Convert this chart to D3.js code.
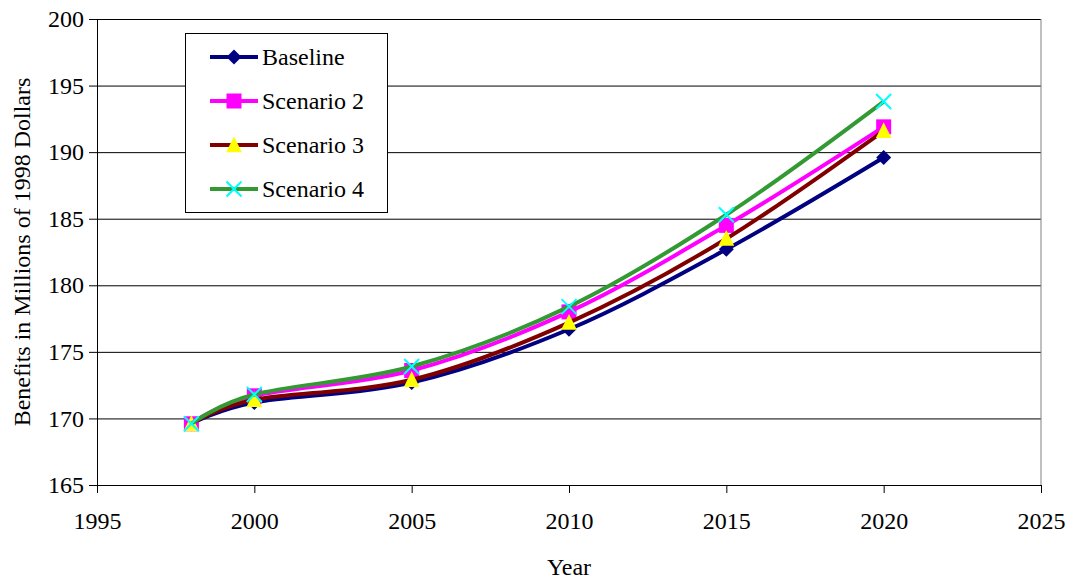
<!DOCTYPE html>
<html>
<head>
<meta charset="utf-8">
<script src="https://cdn.jsdelivr.net/npm/d3@7"></script>
<style>
  body { margin: 0; background: #fff; }
  svg text { font-family: "Liberation Serif", "Times New Roman", serif; fill: #000; }
</style>
</head>
<body>
<div id="chart"></div>
<script>
// data
var years = [1998, 2000, 2005, 2010, 2015, 2020];
var baseline  = [169.6, 171.2, 172.7, 176.7, 182.7, 189.6];
var scenario2 = [169.6, 171.7, 173.6, 178.0, 184.5, 191.9];
var scenario3 = [169.6, 171.4, 172.9, 177.2, 183.5, 191.6];
var scenario4 = [169.6, 171.8, 173.9, 178.4, 185.3, 193.8];
var seriesNames = ["Baseline", "Scenario 2", "Scenario 3", "Scenario 4"];
var xTicks = [1995, 2000, 2005, 2010, 2015, 2020, 2025];
var yTicks = [165, 170, 175, 180, 185, 190, 195, 200];

var width = 1069, height = 580;
var margin = {top: 19, right: 28, bottom: 95, left: 97},
    plot_w = width - margin.left - margin.right,
    plot_h = height - margin.top - margin.bottom;
var fontFam = '"Liberation Serif", "Times New Roman", serif';

var series = [
  {name: seriesNames[0], values: baseline,  line: "#000080", marker: "diamond",  fill: "#000080"},
  {name: seriesNames[1], values: scenario2, line: "#ff00ff", marker: "square",   fill: "#ff00ff"},
  {name: seriesNames[2], values: scenario3, line: "#800000", marker: "triangle", fill: "#ffff00"},
  {name: seriesNames[3], values: scenario4, line: "#339933", marker: "cross",    fill: "#00ffff"}
];

var x = d3.scaleLinear().domain([1995, 2025]).range([0, plot_w]);
var y = d3.scaleLinear().domain([165, 200]).range([plot_h, 0]);

var svg = d3.select("#chart").append("svg")
    .attr("width", width)
    .attr("height", height);

var g = svg.append("g")
    .attr("transform", "translate(" + margin.left + "," + margin.top + ")");

// horizontal gridlines
g.append("g")
    .attr("class", "grid")
    .call(d3.axisLeft(y).tickValues(yTicks).tickSize(-plot_w).tickFormat(""))
    .call(function(s) {
        s.select(".domain").remove();
        s.selectAll("line").attr("stroke", "#000").attr("stroke-width", 1);
    });

// right border of plot area
g.append("line")
    .attr("x1", plot_w).attr("x2", plot_w)
    .attr("y1", 0).attr("y2", plot_h)
    .attr("stroke", "#808080");

function markerPath(type, r) {
    if (type == "diamond") {
        return "M0," + (-r) + "L" + r + ",0L0," + r + "L" + (-r) + ",0Z";
    } else if (type == "square") {
        return "M" + (-r) + "," + (-r) + "H" + r + "V" + r + "H" + (-r) + "Z";
    } else if (type == "triangle") {
        return "M0," + (-r * 1.15) + "L" + (r * 1.05) + "," + (r * 0.95) + "L" + (-r * 1.05) + "," + (r * 0.95) + "Z";
    } else {
        return "M" + (-r) + "," + (-r) + "L" + r + "," + r + "M" + r + "," + (-r) + "L" + (-r) + "," + r;
    }
}

function drawMarker(sel, s, r) {
    if (s.marker == "cross") {
        sel.attr("d", markerPath(s.marker, r))
            .attr("fill", "none")
            .attr("stroke", s.fill)
            .attr("stroke-width", 2);
    } else {
        sel.attr("d", markerPath(s.marker, r))
            .attr("fill", s.fill)
            .attr("stroke", "none");
    }
}

var line = d3.line()
    .curve(d3.curveCardinal.tension(0))
    .x(function(d) { return x(d.year); })
    .y(function(d) { return y(d.value); });

series.forEach(function(s) {
    var pts = years.map(function(yr, i) { return {year: yr, value: s.values[i]}; });

    g.append("path")
        .datum(pts)
        .attr("fill", "none")
        .attr("stroke", s.line)
        .attr("stroke-width", 4)
        .attr("stroke-linejoin", "round")
        .attr("d", line);

    g.selectAll(".m-" + s.marker)
        .data(pts)
        .enter().append("path")
        .attr("class", "m-" + s.marker)
        .attr("transform", function(d) { return "translate(" + x(d.year) + "," + y(d.value) + ")"; })
        .call(drawMarker, s, 7.5);
});

// axes
function styleAxis(s) {
    s.attr("font-family", null).attr("font-size", null);
    s.select(".domain").attr("stroke", "#000");
    s.selectAll(".tick line").attr("stroke", "#000");
    s.selectAll("text")
        .style("font-family", fontFam)
        .style("font-size", "24px");
}

g.append("g")
    .attr("class", "axis")
    .call(d3.axisLeft(y).tickValues(yTicks).tickSize(8).tickPadding(5).tickFormat(d3.format("d")))
    .call(styleAxis);

g.append("g")
    .attr("class", "axis")
    .attr("transform", "translate(0," + plot_h + ")")
    .call(d3.axisBottom(x).tickValues(xTicks).tickSize(8).tickSizeOuter(8).tickPadding(19).tickFormat(d3.format("d")))
    .call(styleAxis);

// axis titles
svg.append("text")
    .attr("transform", "translate(30," + (margin.top + plot_h / 2) + ") rotate(-90)")
    .attr("text-anchor", "middle")
    .style("font-size", "24px")
    .text("Benefits in Millions of 1998 Dollars");

svg.append("text")
    .attr("x", margin.left + plot_w / 2)
    .attr("y", 575)
    .attr("text-anchor", "middle")
    .style("font-size", "24px")
    .text("Year");

// legend
var legend = svg.append("g")
    .attr("transform", "translate(185,33)");

legend.append("rect")
    .attr("x", 0.5).attr("y", 0.5)
    .attr("width", 202).attr("height", 179)
    .attr("fill", "#fff")
    .attr("stroke", "#000");

var items = legend.selectAll(".item")
    .data(series)
    .enter().append("g")
    .attr("class", "item")
    .attr("transform", function(d, i) { return "translate(0," + (24 + i * 44) + ")"; });

items.append("line")
    .attr("x1", 25).attr("x2", 73)
    .attr("stroke", function(d) { return d.line; })
    .attr("stroke-width", 4);

items.append("path")
    .attr("transform", "translate(49,0)")
    .each(function(d) { d3.select(this).call(drawMarker, d, 7.5); });

items.append("text")
    .attr("x", 77)
    .attr("dy", "0.35em")
    .style("font-size", "24px")
    .text(function(d) { return d.name; });
</script>
</body>
</html>
